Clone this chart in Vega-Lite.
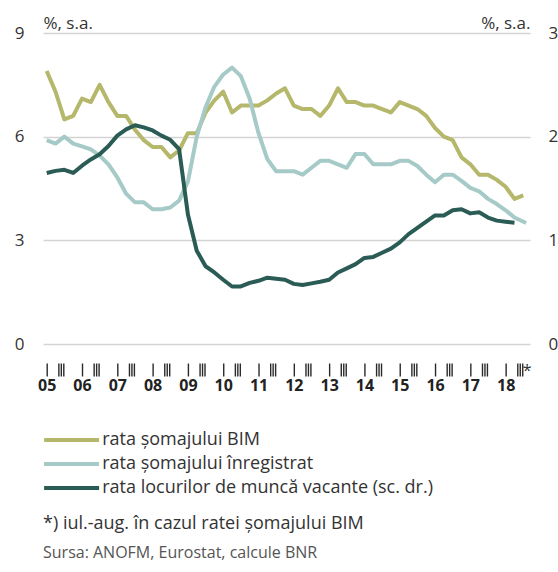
{
  "$schema": "https://vega.github.io/schema/vega-lite/v6.json",
  "width": 487,
  "height": 311,
  "autosize": {"type": "none"},
  "padding": {"left": 43, "top": 33, "right": 28, "bottom": 228},
  "config": {
    "font": "Open Sans",
    "view": {"stroke": null},
    "line": {"strokeWidth": 4, "strokeJoin": "round", "strokeCap": "butt"}
  },
  "title": {
    "text": "*) iul.-aug. în cazul ratei șomajului BIM",
    "subtitle": "Sursa: ANOFM, Eurostat, calcule BNR",
    "orient": "bottom",
    "anchor": "start",
    "frame": "group",
    "offset": 18,
    "font": "Open Sans",
    "fontSize": 18,
    "fontWeight": "normal",
    "color": "#333333",
    "subtitleFont": "Open Sans",
    "subtitleFontSize": 16,
    "subtitleColor": "#555555",
    "subtitlePadding": 12
  },
  "data": {
    "values": [
      {"s": "rata șomajului BIM", "t": 2005.00, "v": 7.9},
      {"s": "rata șomajului BIM", "t": 2005.25, "v": 7.3},
      {"s": "rata șomajului BIM", "t": 2005.50, "v": 6.5},
      {"s": "rata șomajului BIM", "t": 2005.75, "v": 6.6},
      {"s": "rata șomajului BIM", "t": 2006.00, "v": 7.1},
      {"s": "rata șomajului BIM", "t": 2006.25, "v": 7.0},
      {"s": "rata șomajului BIM", "t": 2006.50, "v": 7.5},
      {"s": "rata șomajului BIM", "t": 2006.75, "v": 7.0},
      {"s": "rata șomajului BIM", "t": 2007.00, "v": 6.6},
      {"s": "rata șomajului BIM", "t": 2007.25, "v": 6.6},
      {"s": "rata șomajului BIM", "t": 2007.50, "v": 6.2},
      {"s": "rata șomajului BIM", "t": 2007.75, "v": 5.9},
      {"s": "rata șomajului BIM", "t": 2008.00, "v": 5.7},
      {"s": "rata șomajului BIM", "t": 2008.25, "v": 5.7},
      {"s": "rata șomajului BIM", "t": 2008.50, "v": 5.4},
      {"s": "rata șomajului BIM", "t": 2008.75, "v": 5.6},
      {"s": "rata șomajului BIM", "t": 2009.00, "v": 6.1},
      {"s": "rata șomajului BIM", "t": 2009.25, "v": 6.1},
      {"s": "rata șomajului BIM", "t": 2009.50, "v": 6.7},
      {"s": "rata șomajului BIM", "t": 2009.75, "v": 7.05},
      {"s": "rata șomajului BIM", "t": 2010.00, "v": 7.3},
      {"s": "rata șomajului BIM", "t": 2010.25, "v": 6.7},
      {"s": "rata șomajului BIM", "t": 2010.50, "v": 6.9},
      {"s": "rata șomajului BIM", "t": 2010.75, "v": 6.9},
      {"s": "rata șomajului BIM", "t": 2011.00, "v": 6.9},
      {"s": "rata șomajului BIM", "t": 2011.25, "v": 7.05},
      {"s": "rata șomajului BIM", "t": 2011.50, "v": 7.25},
      {"s": "rata șomajului BIM", "t": 2011.75, "v": 7.4},
      {"s": "rata șomajului BIM", "t": 2012.00, "v": 6.9},
      {"s": "rata șomajului BIM", "t": 2012.25, "v": 6.8},
      {"s": "rata șomajului BIM", "t": 2012.50, "v": 6.8},
      {"s": "rata șomajului BIM", "t": 2012.75, "v": 6.6},
      {"s": "rata șomajului BIM", "t": 2013.00, "v": 6.9},
      {"s": "rata șomajului BIM", "t": 2013.25, "v": 7.4},
      {"s": "rata șomajului BIM", "t": 2013.50, "v": 7.0},
      {"s": "rata șomajului BIM", "t": 2013.75, "v": 7.0},
      {"s": "rata șomajului BIM", "t": 2014.00, "v": 6.9},
      {"s": "rata șomajului BIM", "t": 2014.25, "v": 6.9},
      {"s": "rata șomajului BIM", "t": 2014.50, "v": 6.8},
      {"s": "rata șomajului BIM", "t": 2014.75, "v": 6.7},
      {"s": "rata șomajului BIM", "t": 2015.00, "v": 7.0},
      {"s": "rata șomajului BIM", "t": 2015.25, "v": 6.9},
      {"s": "rata șomajului BIM", "t": 2015.50, "v": 6.8},
      {"s": "rata șomajului BIM", "t": 2015.75, "v": 6.6},
      {"s": "rata șomajului BIM", "t": 2016.00, "v": 6.25},
      {"s": "rata șomajului BIM", "t": 2016.25, "v": 6.0},
      {"s": "rata șomajului BIM", "t": 2016.50, "v": 5.9},
      {"s": "rata șomajului BIM", "t": 2016.75, "v": 5.4},
      {"s": "rata șomajului BIM", "t": 2017.00, "v": 5.2},
      {"s": "rata șomajului BIM", "t": 2017.25, "v": 4.9},
      {"s": "rata șomajului BIM", "t": 2017.50, "v": 4.9},
      {"s": "rata șomajului BIM", "t": 2017.75, "v": 4.75},
      {"s": "rata șomajului BIM", "t": 2018.00, "v": 4.55},
      {"s": "rata șomajului BIM", "t": 2018.25, "v": 4.2},
      {"s": "rata șomajului BIM", "t": 2018.50, "v": 4.3},

      {"s": "rata șomajului înregistrat", "t": 2005.00, "v": 5.9},
      {"s": "rata șomajului înregistrat", "t": 2005.25, "v": 5.8},
      {"s": "rata șomajului înregistrat", "t": 2005.50, "v": 6.0},
      {"s": "rata șomajului înregistrat", "t": 2005.75, "v": 5.8},
      {"s": "rata șomajului înregistrat", "t": 2006.00, "v": 5.72},
      {"s": "rata șomajului înregistrat", "t": 2006.25, "v": 5.63},
      {"s": "rata șomajului înregistrat", "t": 2006.50, "v": 5.45},
      {"s": "rata șomajului înregistrat", "t": 2006.75, "v": 5.2},
      {"s": "rata șomajului înregistrat", "t": 2007.00, "v": 4.82},
      {"s": "rata șomajului înregistrat", "t": 2007.25, "v": 4.35},
      {"s": "rata șomajului înregistrat", "t": 2007.50, "v": 4.1},
      {"s": "rata șomajului înregistrat", "t": 2007.75, "v": 4.1},
      {"s": "rata șomajului înregistrat", "t": 2008.00, "v": 3.9},
      {"s": "rata șomajului înregistrat", "t": 2008.25, "v": 3.9},
      {"s": "rata șomajului înregistrat", "t": 2008.50, "v": 3.95},
      {"s": "rata șomajului înregistrat", "t": 2008.75, "v": 4.15},
      {"s": "rata șomajului înregistrat", "t": 2009.00, "v": 4.7},
      {"s": "rata șomajului înregistrat", "t": 2009.25, "v": 6.0},
      {"s": "rata șomajului înregistrat", "t": 2009.50, "v": 6.85},
      {"s": "rata șomajului înregistrat", "t": 2009.75, "v": 7.45},
      {"s": "rata șomajului înregistrat", "t": 2010.00, "v": 7.8},
      {"s": "rata șomajului înregistrat", "t": 2010.25, "v": 8.0},
      {"s": "rata șomajului înregistrat", "t": 2010.50, "v": 7.75},
      {"s": "rata șomajului înregistrat", "t": 2010.75, "v": 7.1},
      {"s": "rata șomajului înregistrat", "t": 2011.00, "v": 6.1},
      {"s": "rata șomajului înregistrat", "t": 2011.25, "v": 5.35},
      {"s": "rata șomajului înregistrat", "t": 2011.50, "v": 5.0},
      {"s": "rata șomajului înregistrat", "t": 2011.75, "v": 5.0},
      {"s": "rata șomajului înregistrat", "t": 2012.00, "v": 5.0},
      {"s": "rata șomajului înregistrat", "t": 2012.25, "v": 4.9},
      {"s": "rata șomajului înregistrat", "t": 2012.50, "v": 5.1},
      {"s": "rata șomajului înregistrat", "t": 2012.75, "v": 5.3},
      {"s": "rata șomajului înregistrat", "t": 2013.00, "v": 5.3},
      {"s": "rata șomajului înregistrat", "t": 2013.25, "v": 5.2},
      {"s": "rata șomajului înregistrat", "t": 2013.50, "v": 5.1},
      {"s": "rata șomajului înregistrat", "t": 2013.75, "v": 5.5},
      {"s": "rata șomajului înregistrat", "t": 2014.00, "v": 5.5},
      {"s": "rata șomajului înregistrat", "t": 2014.25, "v": 5.2},
      {"s": "rata șomajului înregistrat", "t": 2014.50, "v": 5.2},
      {"s": "rata șomajului înregistrat", "t": 2014.75, "v": 5.2},
      {"s": "rata șomajului înregistrat", "t": 2015.00, "v": 5.3},
      {"s": "rata șomajului înregistrat", "t": 2015.25, "v": 5.3},
      {"s": "rata șomajului înregistrat", "t": 2015.50, "v": 5.15},
      {"s": "rata șomajului înregistrat", "t": 2015.75, "v": 4.9},
      {"s": "rata șomajului înregistrat", "t": 2016.00, "v": 4.68},
      {"s": "rata șomajului înregistrat", "t": 2016.25, "v": 4.9},
      {"s": "rata șomajului înregistrat", "t": 2016.50, "v": 4.9},
      {"s": "rata șomajului înregistrat", "t": 2016.75, "v": 4.72},
      {"s": "rata șomajului înregistrat", "t": 2017.00, "v": 4.52},
      {"s": "rata șomajului înregistrat", "t": 2017.25, "v": 4.42},
      {"s": "rata șomajului înregistrat", "t": 2017.50, "v": 4.2},
      {"s": "rata șomajului înregistrat", "t": 2017.75, "v": 4.05},
      {"s": "rata șomajului înregistrat", "t": 2018.00, "v": 3.87},
      {"s": "rata șomajului înregistrat", "t": 2018.25, "v": 3.66},
      {"s": "rata șomajului înregistrat", "t": 2018.58, "v": 3.5},

      {"s": "rata locurilor de muncă vacante (sc. dr.)", "t": 2005.00, "v": 1.65},
      {"s": "rata locurilor de muncă vacante (sc. dr.)", "t": 2005.25, "v": 1.67},
      {"s": "rata locurilor de muncă vacante (sc. dr.)", "t": 2005.50, "v": 1.68},
      {"s": "rata locurilor de muncă vacante (sc. dr.)", "t": 2005.75, "v": 1.65},
      {"s": "rata locurilor de muncă vacante (sc. dr.)", "t": 2006.00, "v": 1.72},
      {"s": "rata locurilor de muncă vacante (sc. dr.)", "t": 2006.25, "v": 1.78},
      {"s": "rata locurilor de muncă vacante (sc. dr.)", "t": 2006.50, "v": 1.83},
      {"s": "rata locurilor de muncă vacante (sc. dr.)", "t": 2006.75, "v": 1.91},
      {"s": "rata locurilor de muncă vacante (sc. dr.)", "t": 2007.00, "v": 2.01},
      {"s": "rata locurilor de muncă vacante (sc. dr.)", "t": 2007.25, "v": 2.07},
      {"s": "rata locurilor de muncă vacante (sc. dr.)", "t": 2007.50, "v": 2.11},
      {"s": "rata locurilor de muncă vacante (sc. dr.)", "t": 2007.75, "v": 2.09},
      {"s": "rata locurilor de muncă vacante (sc. dr.)", "t": 2008.00, "v": 2.06},
      {"s": "rata locurilor de muncă vacante (sc. dr.)", "t": 2008.25, "v": 2.01},
      {"s": "rata locurilor de muncă vacante (sc. dr.)", "t": 2008.50, "v": 1.97},
      {"s": "rata locurilor de muncă vacante (sc. dr.)", "t": 2008.75, "v": 1.88},
      {"s": "rata locurilor de muncă vacante (sc. dr.)", "t": 2009.00, "v": 1.25},
      {"s": "rata locurilor de muncă vacante (sc. dr.)", "t": 2009.25, "v": 0.9},
      {"s": "rata locurilor de muncă vacante (sc. dr.)", "t": 2009.50, "v": 0.75},
      {"s": "rata locurilor de muncă vacante (sc. dr.)", "t": 2009.75, "v": 0.69},
      {"s": "rata locurilor de muncă vacante (sc. dr.)", "t": 2010.00, "v": 0.62},
      {"s": "rata locurilor de muncă vacante (sc. dr.)", "t": 2010.25, "v": 0.555},
      {"s": "rata locurilor de muncă vacante (sc. dr.)", "t": 2010.50, "v": 0.555},
      {"s": "rata locurilor de muncă vacante (sc. dr.)", "t": 2010.75, "v": 0.59},
      {"s": "rata locurilor de muncă vacante (sc. dr.)", "t": 2011.00, "v": 0.61},
      {"s": "rata locurilor de muncă vacante (sc. dr.)", "t": 2011.25, "v": 0.64},
      {"s": "rata locurilor de muncă vacante (sc. dr.)", "t": 2011.50, "v": 0.63},
      {"s": "rata locurilor de muncă vacante (sc. dr.)", "t": 2011.75, "v": 0.62},
      {"s": "rata locurilor de muncă vacante (sc. dr.)", "t": 2012.00, "v": 0.58},
      {"s": "rata locurilor de muncă vacante (sc. dr.)", "t": 2012.25, "v": 0.57},
      {"s": "rata locurilor de muncă vacante (sc. dr.)", "t": 2012.50, "v": 0.585},
      {"s": "rata locurilor de muncă vacante (sc. dr.)", "t": 2012.75, "v": 0.6},
      {"s": "rata locurilor de muncă vacante (sc. dr.)", "t": 2013.00, "v": 0.62},
      {"s": "rata locurilor de muncă vacante (sc. dr.)", "t": 2013.25, "v": 0.69},
      {"s": "rata locurilor de muncă vacante (sc. dr.)", "t": 2013.50, "v": 0.73},
      {"s": "rata locurilor de muncă vacante (sc. dr.)", "t": 2013.75, "v": 0.77},
      {"s": "rata locurilor de muncă vacante (sc. dr.)", "t": 2014.00, "v": 0.83},
      {"s": "rata locurilor de muncă vacante (sc. dr.)", "t": 2014.25, "v": 0.84},
      {"s": "rata locurilor de muncă vacante (sc. dr.)", "t": 2014.50, "v": 0.88},
      {"s": "rata locurilor de muncă vacante (sc. dr.)", "t": 2014.75, "v": 0.92},
      {"s": "rata locurilor de muncă vacante (sc. dr.)", "t": 2015.00, "v": 0.98},
      {"s": "rata locurilor de muncă vacante (sc. dr.)", "t": 2015.25, "v": 1.06},
      {"s": "rata locurilor de muncă vacante (sc. dr.)", "t": 2015.50, "v": 1.12},
      {"s": "rata locurilor de muncă vacante (sc. dr.)", "t": 2015.75, "v": 1.18},
      {"s": "rata locurilor de muncă vacante (sc. dr.)", "t": 2016.00, "v": 1.24},
      {"s": "rata locurilor de muncă vacante (sc. dr.)", "t": 2016.25, "v": 1.24},
      {"s": "rata locurilor de muncă vacante (sc. dr.)", "t": 2016.50, "v": 1.29},
      {"s": "rata locurilor de muncă vacante (sc. dr.)", "t": 2016.75, "v": 1.3},
      {"s": "rata locurilor de muncă vacante (sc. dr.)", "t": 2017.00, "v": 1.26},
      {"s": "rata locurilor de muncă vacante (sc. dr.)", "t": 2017.25, "v": 1.27},
      {"s": "rata locurilor de muncă vacante (sc. dr.)", "t": 2017.50, "v": 1.22},
      {"s": "rata locurilor de muncă vacante (sc. dr.)", "t": 2017.75, "v": 1.19},
      {"s": "rata locurilor de muncă vacante (sc. dr.)", "t": 2018.00, "v": 1.18},
      {"s": "rata locurilor de muncă vacante (sc. dr.)", "t": 2018.25, "v": 1.17}
    ]
  },
  "layer": [
    {
      "encoding": {
        "x": {
          "field": "t", "type": "quantitative",
          "scale": {"domain": [2004.895, 2018.69], "nice": false, "zero": false},
          "axis": {
            "orient": "bottom", "offset": 19, "title": null, "grid": false, "domain": false,
            "ticks": true, "tickSize": 13, "tickWidth": 1.4, "tickColor": "#2a2a2a", "tickRound": false,
            "values": [2005, 2005.33, 2005.40, 2005.47, 2006, 2006.33, 2006.40, 2006.47, 2007, 2007.33, 2007.40, 2007.47, 2008, 2008.33, 2008.40, 2008.47, 2009, 2009.33, 2009.40, 2009.47, 2010, 2010.33, 2010.40, 2010.47, 2011, 2011.33, 2011.40, 2011.47, 2012, 2012.33, 2012.40, 2012.47, 2013, 2013.33, 2013.40, 2013.47, 2014, 2014.33, 2014.40, 2014.47, 2015, 2015.33, 2015.40, 2015.47, 2016, 2016.33, 2016.40, 2016.47, 2017, 2017.33, 2017.40, 2017.47, 2018, 2018.33, 2018.40, 2018.47],
            "labelExpr": "datum.value > 2018.44 ? '*' : ''",
            "labelAlign": "left", "labelDx": 1, "labelBaseline": "top", "labelPadding": -14,
            "labelFontSize": 16, "labelColor": "#333333",
            "labelOverlap": false, "labelFlush": false, "labelBound": false
          }
        },
        "y": {
          "field": "v", "type": "quantitative",
          "scale": {"domain": [0, 9], "nice": false, "zero": true},
          "axis": {
            "values": [0, 3, 6, 9], "grid": true, "gridColor": "#d4d4d4", "gridWidth": 1.5,
            "domain": false, "ticks": false, "tickSize": 0,
            "labelFontSize": 17, "labelColor": "#333333", "labelPadding": 19,
            "title": "%, s.a.", "titleAngle": 0, "titleAlign": "left", "titleBaseline": "alphabetic",
            "titleX": 0, "titleY": -5, "titleFontSize": 17, "titleFontWeight": "normal", "titleColor": "#333333"
          }
        },
        "color": {
          "field": "s", "type": "nominal",
          "scale": {
            "domain": ["rata șomajului BIM", "rata șomajului înregistrat", "rata locurilor de muncă vacante (sc. dr.)"],
            "range": ["#b5b76b", "#a5cac7", "#2a5c55"]
          },
          "legend": {
            "orient": "none", "legendX": -1, "legendY": 398, "direction": "vertical",
            "title": null, "padding": 0,
            "symbolType": "M-4,0H4", "symbolSize": 189, "symbolStrokeWidth": 4,
            "symbolOffset": 20.6,
            "labelFontSize": 18, "labelColor": "#333333", "labelOffset": 21.6, "labelLimit": 0,
            "rowPadding": 6
          }
        }
      },
      "layer": [
        {"transform": [{"filter": "datum.s == 'rata șomajului BIM'"}], "mark": {"type": "line"}},
        {"transform": [{"filter": "datum.s == 'rata șomajului înregistrat'"}], "mark": {"type": "line"}}
      ]
    },
    {
      "transform": [{"filter": "datum.s == 'rata locurilor de muncă vacante (sc. dr.)'"}],
      "mark": {"type": "line"},
      "encoding": {
        "x": {
          "field": "t", "type": "quantitative",
          "axis": {
            "orient": "bottom", "offset": 0, "title": null, "grid": false, "domain": false,
            "ticks": false, "tickSize": 0,
            "values": [2005, 2006, 2007, 2008, 2009, 2010, 2011, 2012, 2013, 2014, 2015, 2016, 2017, 2018],
            "format": "d", "labelExpr": "substring(datum.label, 2)",
            "labelFontSize": 16, "labelFontWeight": "bold", "labelColor": "#222222",
            "labelPadding": 33, "labelOverlap": false, "labelFlush": false, "labelBound": false
          }
        },
        "y": {
          "field": "v", "type": "quantitative",
          "scale": {"domain": [0, 3], "nice": false, "zero": true},
          "axis": {
            "orient": "right", "values": [0, 1, 2, 3], "grid": false,
            "domain": false, "ticks": false, "tickSize": 0,
            "labelFontSize": 17, "labelColor": "#333333", "labelPadding": 18,
            "title": "%, s.a.", "titleAngle": 0, "titleAlign": "right", "titleBaseline": "alphabetic",
            "titleX": 0, "titleY": -5, "titleFontSize": 17, "titleFontWeight": "normal", "titleColor": "#333333"
          }
        },
        "color": {"field": "s", "type": "nominal"}
      }
    }
  ],
  "resolve": {"scale": {"y": "independent"}, "axis": {"x": "independent"}}
}
